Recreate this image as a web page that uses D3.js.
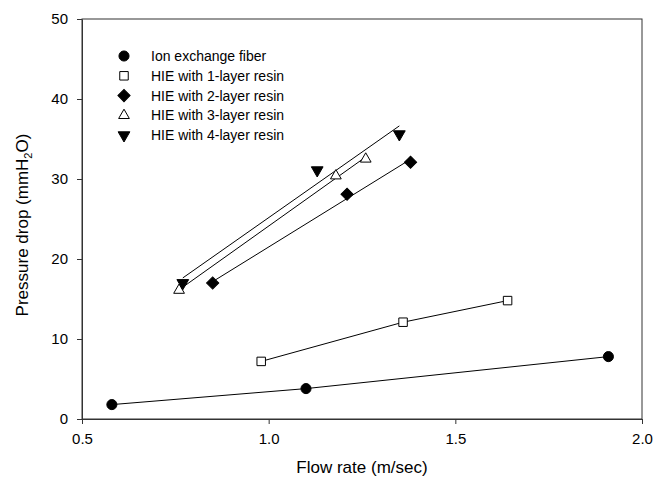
<!DOCTYPE html>
<html>
<head>
<meta charset="utf-8">
<script src="https://cdn.jsdelivr.net/npm/d3@7"></script>
<style>
  body { margin: 0; background: #fff; }
  text { font-family: "Liberation Sans", Arial, sans-serif; fill: #000; }
</style>
</head>
<body>
<script>
// Data
// =================================
var seriesNames = [
  "Ion exchange fiber",
  "HIE with 1-layer resin",
  "HIE with 2-layer resin",
  "HIE with 3-layer resin",
  "HIE with 4-layer resin"
];

var fiberFlow = [0.58, 1.10, 1.91];
var fiberDrop = [1.8, 3.8, 7.8];

var layer1Flow = [0.98, 1.36, 1.64];
var layer1Drop = [7.2, 12.1, 14.8];

var layer2Flow = [0.85, 1.21, 1.38];
var layer2Drop = [17.0, 28.1, 32.1];

var layer3Flow = [0.76, 1.18, 1.26];
var layer3Drop = [16.1, 30.4, 32.5];

var layer4Flow = [0.77, 1.13, 1.35];
var layer4Drop = [17.0, 31.1, 35.6];

var xTicks = [0.5, 1.0, 1.5, 2.0];
var yTicks = [0, 10, 20, 30, 40, 50];

// Step 1: Set up our chart
// =================================
var svgWidth = 655;
var svgHeight = 483;

var margin = {
  top: 19,
  right: 13,
  bottom: 64,
  left: 82
};

var width = svgWidth - margin.left - margin.right;
var height = svgHeight - margin.top - margin.bottom;

// Step 2: Create SVG
// =================================
var svg = d3.select("body")
  .append("svg")
  .attr("width", svgWidth)
  .attr("height", svgHeight);

var chartGroup = svg.append("g")
  .attr("transform", `translate(${margin.left}, ${margin.top})`);

// Step 3: Build the series
// =================================
var series = [
  { name: seriesNames[0], flow: fiberFlow, drop: fiberDrop, shape: "circle", fill: "#000", fit: false },
  { name: seriesNames[1], flow: layer1Flow, drop: layer1Drop, shape: "square", fill: "#fff", fit: false },
  { name: seriesNames[2], flow: layer2Flow, drop: layer2Drop, shape: "diamond", fill: "#000", fit: true },
  { name: seriesNames[3], flow: layer3Flow, drop: layer3Drop, shape: "triUp", fill: "#fff", fit: true },
  { name: seriesNames[4], flow: layer4Flow, drop: layer4Drop, shape: "triDown", fill: "#000", fit: true }
];

series.forEach(function(s) {
  s.points = s.flow.map((f, i) => ({ x: f, y: s.drop[i] }));
});

// Step 4: Scales
// =================================
var xScale = d3.scaleLinear().domain([0.5, 2.0]).range([0, width]);
var yScale = d3.scaleLinear().domain([0, 50]).range([height, 0]);

// Step 5: Frame and axes
// =================================
var axisColor = "#333";

chartGroup.append("rect")
  .attr("x", 0)
  .attr("y", 0)
  .attr("width", width)
  .attr("height", height)
  .attr("fill", "none")
  .attr("stroke", axisColor)
  .attr("stroke-width", 1);

var bottomAxis = d3.axisBottom(xScale)
  .tickValues(xTicks)
  .tickFormat(d3.format(".1f"))
  .tickSizeInner(5)
  .tickSizeOuter(0)
  .tickPadding(9);

var leftAxis = d3.axisLeft(yScale)
  .tickValues(yTicks)
  .tickFormat(d3.format("d"))
  .tickSizeInner(5)
  .tickSizeOuter(0)
  .tickPadding(9);

var xAxisG = chartGroup.append("g")
  .attr("transform", `translate(0, ${height})`)
  .call(bottomAxis);

var yAxisG = chartGroup.append("g").call(leftAxis);

[xAxisG, yAxisG].forEach(function(g) {
  g.select(".domain").attr("stroke", axisColor);
  g.selectAll(".tick line").attr("stroke", axisColor);
  g.selectAll(".tick text")
    .attr("font-size", 15)
    .attr("font-family", "Liberation Sans, Arial, sans-serif")
    .attr("fill", "#000");
});

// Axis titles
svg.append("text")
  .attr("x", margin.left + width / 2)
  .attr("y", 473)
  .attr("text-anchor", "middle")
  .attr("font-size", 17)
  .text("Flow rate (m/sec)");

var yTitle = svg.append("text")
  .attr("transform", `translate(28, ${margin.top + height / 2 + 6}) rotate(-90)`)
  .attr("text-anchor", "middle")
  .attr("font-size", 17);

yTitle.append("tspan").text("Pressure drop (mmH");
yTitle.append("tspan").attr("font-size", 11).attr("dy", 4).text("2");
yTitle.append("tspan").attr("dy", -4).text("O)");

// Step 6: Lines
// =================================
var line = d3.line()
  .x(d => xScale(d.x))
  .y(d => yScale(d.y));

function fitLine(pts) {
  var mx = d3.mean(pts, d => d.x);
  var my = d3.mean(pts, d => d.y);
  var sxy = d3.sum(pts, d => (d.x - mx) * (d.y - my));
  var sxx = d3.sum(pts, d => (d.x - mx) * (d.x - mx));
  var slope = sxy / sxx;
  var ext = d3.extent(pts, d => d.x);
  return ext.map(x => ({ x: x, y: my + slope * (x - mx) }));
}

series.forEach(function(s) {
  var pts = s.fit ? fitLine(s.points) : s.points;
  chartGroup.append("path")
    .attr("d", line(pts))
    .attr("fill", "none")
    .attr("stroke", "#000")
    .attr("stroke-width", 1);
});

// Step 7: Markers
// =================================
var shapes = {
  circle: { type: d3.symbolCircle, size: 80, rotate: 0 },
  square: { type: d3.symbolSquare, size: 72, rotate: 0 },
  diamond: { type: d3.symbolSquare, size: 74, rotate: 45 },
  triUp: { type: d3.symbolTriangle, size: 50, rotate: 0 },
  triDown: { type: d3.symbolTriangle, size: 60, rotate: 180 }
};

function drawMarker(g, s, x, y) {
  var sh = shapes[s.shape];
  g.append("path")
    .attr("d", d3.symbol().type(sh.type).size(sh.size)())
    .attr("transform", `translate(${x}, ${y}) rotate(${sh.rotate})`)
    .attr("fill", s.fill)
    .attr("stroke", "#000")
    .attr("stroke-width", 1);
}

series.forEach(function(s) {
  s.points.forEach(function(p) {
    drawMarker(chartGroup, s, xScale(p.x), yScale(p.y));
  });
});

// Step 8: Legend
// =================================
var legend = svg.append("g").attr("transform", "translate(124, 56)");

series.forEach(function(s, i) {
  var row = legend.append("g").attr("transform", `translate(0, ${i * 19.8})`);
  drawMarker(row, s, 0, 0);
  row.append("text")
    .attr("x", 27)
    .attr("y", 5)
    .attr("font-size", 14)
    .text(s.name);
});
</script>
</body>
</html>
